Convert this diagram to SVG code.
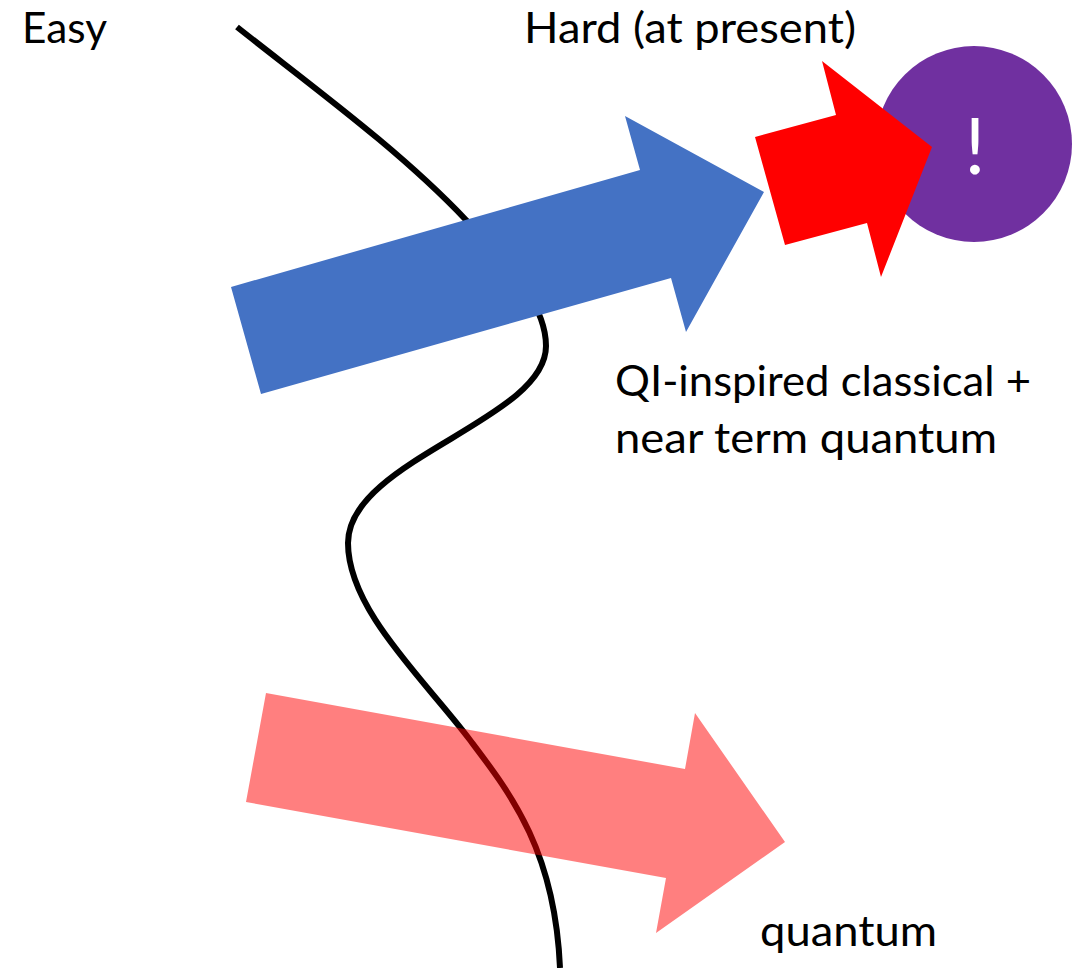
<svg xmlns="http://www.w3.org/2000/svg" width="1086" height="968" viewBox="0 0 1086 968">
<style>
text{font-family:Lato,"Open Sans","Liberation Sans",sans-serif;font-size:43px;fill:#000}
</style>
<rect width="1086" height="968" fill="#fff"/>
<g id="connectors">
<path id="curve" d="M237 27C310 85 400 150 466 220C500 258 546 300 546 346C546 420 348 460 348 543C348 610 425 680 470 740C510 793 555 850 560 968" fill="none" stroke="#000" stroke-width="6"/>
</g>
<g id="arrow-blue"><polygon points="231,287 640,170 625,116 764,192 686,332 671,278 261,394" fill="#4472c4"/></g>
<g id="circle-purple"><circle cx="974" cy="144" r="98" fill="#7030a0"/><text x="975" y="174" text-anchor="middle" style="fill:#fff;font-size:78px">!</text></g>
<g id="arrow-red"><polygon points="755,137 836,115 822,61 932,147 881,277 867,223 785,245" fill="#f00"/></g>
<g id="arrow-pink"><polygon points="266,693 685,769 695,713 785,842 656,933 666,878 246,802" fill="#f00" fill-opacity=".5"/></g>
<g id="labels">
<text x="22" y="43" textLength="85" lengthAdjust="spacingAndGlyphs">Easy</text>
<text x="524" y="43" textLength="332" lengthAdjust="spacingAndGlyphs">Hard (at present)</text>
<text x="615" y="396" textLength="416" lengthAdjust="spacingAndGlyphs">QI-inspired classical +</text>
<text x="615" y="453" textLength="382" lengthAdjust="spacingAndGlyphs">near term quantum</text>
<text x="760" y="946" textLength="177" lengthAdjust="spacingAndGlyphs">quantum</text>
</g>
</svg>
